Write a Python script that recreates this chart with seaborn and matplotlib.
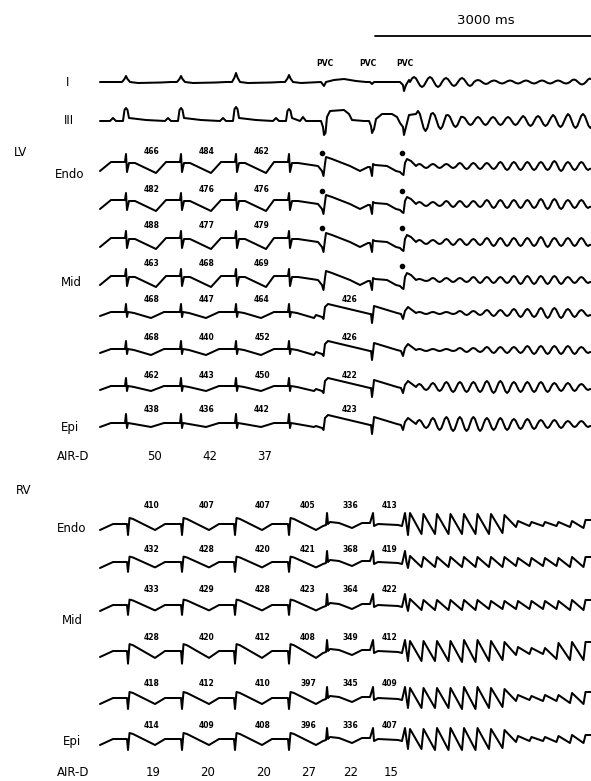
import numpy as np
import pandas as pd
import matplotlib
matplotlib.use("Agg")
import matplotlib.pyplot as plt
import seaborn as sns

# ---------------- data ----------------
SCALE_BAR_MS = 3000
TRACE_END_MS = 6820
SINUS_MS = [361, 1125, 1889, 2625]          # sinus beats (leads, LV)
LV_PVC_MS = [3111, 3778, 4222]              # three PVCs
RV_SINUS_MS = [389, 1139, 1875, 2625]
RV_PVC_MS = [3153, 3792, 4236]
PVC_LABELS = ["PVC", "PVC", "PVC"]

LEAD_NAMES = ["I", "III"]
I_PEAKS = [6, 6, 9, 7]
III_PEAKS = [13, 13, 14, 12]
I_VF_AMP = [5, 5, 4, 4, 2, 1.5, 1.5, 1.5, 1.5, 1.5, 2.5, 3.5, 3]
III_VF_AMP = [10, 8, 6, 4, 4, 4, 4, 5, 5, 6, 7, 7, 7]

LV_SITES = ["Endo", "Mid", "Epi"]
LV_ARI = [[466, 484, 462], [482, 476, 476], [488, 477, 479], [463, 468, 469],
          [468, 447, 464, 426], [468, 440, 452, 426], [462, 443, 450, 422],
          [438, 436, 442, 423]]
LV_DOTS = [[1, 1], [1, 1], [1, 1], [0, 1], [0, 0], [0, 0], [0, 0], [0, 0]]
LV_SPIKE = [12, 11, 11, 11, 9, 9, 9, 10]
LV_DIP = [7, 7, 7, 7, 5, 5, 4, 3]
LV_VF_AMP = [[2, 2, 2, 3, 3, 3, 4, 4, 4, 4, 5, 4, 4],
             [2, 2, 3, 3, 3, 4, 4, 4, 4, 5, 5, 4, 4],
             [2, 2, 3, 3, 3, 4, 4, 4, 4, 5, 4, 4, 4],
             [1, 2, 2, 2, 3, 3, 3, 4, 4, 4, 4, 3, 3],
             [1, 1, 1, 2, 2, 3, 3, 4, 4, 5, 5, 4, 3],
             [1, 1, 1, 2, 2, 3, 3, 3, 4, 4, 4, 4, 3],
             [3, 4, 5, 5, 5, 6, 6, 5, 5, 5, 4, 4, 3],
             [4, 6, 7, 7, 7, 6, 6, 5, 5, 4, 4, 3, 3]]
LV_AIRD = [50, 42, 37]

RV_SITES = ["Endo", "Mid", "Epi"]
RV_ARI = [[410, 407, 407, 405, 336, 413], [432, 428, 420, 421, 368, 419],
          [433, 429, 428, 423, 364, 422], [428, 420, 412, 408, 349, 412],
          [418, 412, 410, 397, 345, 409], [414, 409, 408, 396, 336, 407]]
RV_GAIN = [1.0, 0.9, 0.9, 1.15, 1.0, 1.0]
RV_VF_AMP = [[11, 10, 10, 10, 10, 10, 10, 9, 3, 2, 2, 2, 3, 4],
             [6, 5, 5, 5, 5, 5, 5, 5, 4, 4, 4, 4, 5, 5],
             [6, 5, 5, 5, 5, 5, 4, 4, 4, 4, 4, 4, 5, 5],
             [10, 10, 10, 10, 11, 11, 10, 9, 4, 3, 3, 8, 9, 9],
             [10, 10, 10, 10, 11, 11, 10, 9, 3, 2, 3, 3, 5, 6],
             [10, 10, 11, 11, 11, 11, 10, 9, 3, 2, 2, 3, 4, 4]]
RV_AIRD = [19, 20, 20, 27, 22, 15]

# ---------------- layout (pixels of the 591x781 canvas) ----------------
MS_PER_PX = SCALE_BAR_MS / 216.0


def ms(px):
    return (px - 100.0) * MS_PER_PX


LEAD_Y = [82, 121]
LV_Y = [166, 204, 242, 280, 313, 350, 387, 424]
LV_NUM_Y = [151, 189, 226, 264, 300, 337, 375, 409]
RV_Y = [524, 562, 605, 651, 698, 739]
RV_NUM_Y = [505, 550, 590, 637, 683, 725]
PVC_LABEL_DX = [1, -4, 1]


# ---------------- waveform shapes (dx in px, amplitude in px, up positive) ----------------
def tpl_I(h):
    return [(-4, 0), (-1.5, 0.5 * h), (0, h), (1.5, 0.5 * h), (4, 0), (12, -1), (35, -0.5), (45, 0)]


def tpl_III(h):
    return [(-16, 0), (-13, 3), (-10, 0), (-3, 0), (-1.5, 0.85 * h), (0, h), (1.5, 0.85 * h),
            (3, 3), (20, 1), (38, 0)]


I_PVC = [[(-3, 0), (0, -4), (2, 0), (10, 2), (20, 3), (32, 1), (42, 0)],
         [(-2, 0), (0, -2), (2, 0), (20, 0)],
         [(-4, 0), (-1, -3), (0, -9), (2, -3), (5, 2)]]
III_PVC = [[(-24, 0), (-21, 4), (-18, 0), (-3, 0), (-1, -6), (0, -14), (1.5, -12), (3, 4),
            (6, 10), (20, 11), (25, 7), (28, 1), (40, 0)],
           [(-3, 0), (-1, -5), (0, -12), (2, -8), (4, 2), (10, 7), (20, 7), (25, 4), (28, -2)],
           [(-1, -6), (0, -14), (2, -6), (5, 6), (12, 7)]]


def tpl_lvA(sp, dp):
    return [(-15, 4), (-1, 4), (0, sp), (1, -dp + 1), (3, 3), (9, 3), (30, -dp), (41, 3)]


def tpl_lvB(sp, dp):
    return [(-15, 1), (-1, 1), (0, sp), (1, -4), (2, 1), (8, 0), (25, -dp), (38, 1)]


LV_PVC_A = [[(-6, 0), (-2, -5), (-0.5, -10), (1, 2), (2, 9), (8, 7), (26, 0), (36, -5), (44, -1)],
            [(-2, -1), (0, -10), (1, 2), (3, 1), (15, 0), (24, -5), (28, -6)],
            [(-2, -8), (-0.5, -9), (1, 3), (3, 7), (7, 5), (12, 0)]]
LV_PVC_B = [[(-8, -2), (-2, -4), (-0.5, -6), (1, 6), (4, 9), (46, -1)],
            [(-1, -1), (0, -10), (1, -2), (2, 7), (25, 0), (29, 0)],
            [(-3, -1), (-1, -6), (1, 2), (4, 6), (12, 0)]]


def tpl_rv(g):
    return [(-15, 0), (-1, 0), (0, -11 * g), (1.5, 6 * g), (5, 5 * g), (27, -6 * g), (37, 0)]


RV_PVC = [[(-4, -2), (-1, -1), (0, 11), (1, 0), (3, 2), (12, 1), (25, -4), (35, 1)],
          [(-3, 1), (0, 11), (1, -2), (5, 0), (25, -1)],
          [(-3, -2), (0, 11), (1.5, 0)]]


def vf_tpl(amps, period, kind):
    pts = []
    for k, a in enumerate(amps):
        x0 = k * period
        if kind == "saw":
            pts += [(x0, -a), (x0 + 0.15 * period, a)]
        else:
            for f in np.linspace(0, 1, 9)[:-1]:
                v = np.sin(2 * np.pi * f) if kind == "sin" else np.cos(2 * np.pi * f)
                pts.append((x0 + f * period, a * v))
    return pts


def assemble(events, start_level):
    pts = [(0.0, start_level)]
    starts = [t + tpl[0][0] * MS_PER_PX for t, tpl in events]
    for i, (t, tpl) in enumerate(events):
        limit = starts[i + 1] if i + 1 < len(events) else np.inf
        for dx, a in tpl:
            tt = t + dx * MS_PER_PX
            if tt < limit and tt > pts[-1][0]:
                pts.append((tt, a))
    arr = np.array(pts)
    yend = np.interp(TRACE_END_MS, arr[:, 0], arr[:, 1])
    arr = arr[arr[:, 0] < TRACE_END_MS]
    return np.vstack([arr, [TRACE_END_MS, yend]])


traces = []

# leads I and III
ev = [(t, tpl_I(h)) for t, h in zip(SINUS_MS, I_PEAKS)]
ev += [(t, p) for t, p in zip(LV_PVC_MS, I_PVC)]
ev += [(LV_PVC_MS[2] + 6 * MS_PER_PX, vf_tpl(I_VF_AMP, 16, "sin"))]
traces.append((LEAD_Y[0], assemble(ev, 0)))

ev = [(t, tpl_III(h)) for t, h in zip(SINUS_MS, III_PEAKS)]
ev += [(t, p) for t, p in zip(LV_PVC_MS, III_PVC)]
ev += [(LV_PVC_MS[2] + 14 * MS_PER_PX, vf_tpl(III_VF_AMP, 15, "cos"))]
traces.append((LEAD_Y[1], assemble(ev, 0)))

# LV rows
for r in range(8):
    grpA = r < 4
    ftpl = tpl_lvA if grpA else tpl_lvB
    pv = LV_PVC_A if grpA else LV_PVC_B
    ev = [(t, ftpl(LV_SPIKE[r], LV_DIP[r])) for t in SINUS_MS]
    ev += [(t, p) for t, p in zip(LV_PVC_MS, pv)]
    ev += [(LV_PVC_MS[2] + 12 * MS_PER_PX, vf_tpl(LV_VF_AMP[r], 13.5, "sin"))]
    traces.append((LV_Y[r], assemble(ev, -5 if grpA else -3)))

# RV rows
for r in range(6):
    g = RV_GAIN[r]
    ev = [(t, tpl_rv(g)) for t in RV_SINUS_MS]
    ev += [(t, p) for t, p in zip(RV_PVC_MS, RV_PVC)]
    ev += [(RV_PVC_MS[2] + 3 * MS_PER_PX, vf_tpl(RV_VF_AMP[r], 13.5, "saw"))]
    traces.append((RV_Y[r], assemble(ev, -6)))

frames = []
for i, (y0, arr) in enumerate(traces):
    frames.append(pd.DataFrame({"t": arr[:, 0], "y": y0 - arr[:, 1], "trace": i}))
df = pd.concat(frames, ignore_index=True)

# ---------------- draw ----------------
sns.set_theme(style="white")
plt.rcParams["font.family"] = ["DejaVu Sans"]
plt.rcParams["text.color"] = "black"
fig = plt.figure(figsize=(5.91, 7.81), dpi=100)
ax = fig.add_axes([0, 0, 1, 1])
sns.lineplot(data=df, x="t", y="y", units="trace", estimator=None, sort=False,
             color="black", linewidth=1.45, legend=False, ax=ax)
ax.set_xlim(ms(0), ms(591))
ax.set_ylim(781, 0)
ax.axis("off")

# scale bar
ax.plot([ms(375), ms(375) + SCALE_BAR_MS], [36, 36], color="black", lw=1.3)
ax.text(ms(486), 21, f"{SCALE_BAR_MS} ms", ha="center", va="center", fontsize=9.5,
        color="black")

lab = dict(ha="center", va="center", fontsize=8.5, color="black")
num = dict(ha="center", va="center", fontsize=5.5, fontweight="bold", color="black")

for t, s, dx in zip(LV_PVC_MS, PVC_LABELS, PVC_LABEL_DX):
    ax.text(t + dx * MS_PER_PX, 63, s, **num)

ax.text(ms(68), LEAD_Y[0], LEAD_NAMES[0], **lab)
ax.text(ms(69), LEAD_Y[1], LEAD_NAMES[1], **lab)

# LV labels
ax.text(ms(20), 153, "LV", **lab)
ax.text(ms(70), 175, LV_SITES[0], **lab)
ax.text(ms(71), 283, LV_SITES[1], **lab)
ax.text(ms(70), 428, LV_SITES[2], **lab)
ax.text(ms(73), 456, "AIR-D", **lab)
lv_num_t = [SINUS_MS[0], SINUS_MS[1], SINUS_MS[2], LV_PVC_MS[0]]
for r, vals in enumerate(LV_ARI):
    for j, v in enumerate(vals):
        ax.text(lv_num_t[j] + 26 * MS_PER_PX, LV_NUM_Y[r], str(v), **num)
    for j, d in enumerate(LV_DOTS[r]):
        if d:
            tt = LV_PVC_MS[0 if j == 0 else 2] - 1.5 * MS_PER_PX
            ax.scatter([tt], [LV_NUM_Y[r] + 2], s=9, color="black", zorder=5)
for j, v in enumerate(LV_AIRD):
    ax.text(SINUS_MS[j] + 29 * MS_PER_PX, 456, str(v), **lab)

# RV labels
ax.text(ms(24), 490, "RV", **lab)
ax.text(ms(72), 528, RV_SITES[0], **lab)
ax.text(ms(72), 621, RV_SITES[1], **lab)
ax.text(ms(72), 741, RV_SITES[2], **lab)
ax.text(ms(73), 773, "AIR-D", **lab)
rv_num_t = RV_SINUS_MS + RV_PVC_MS[:2]
rv_off = [24, 25, 28, 19, 23, 17]
for r, vals in enumerate(RV_ARI):
    for j, v in enumerate(vals):
        ax.text(rv_num_t[j] + rv_off[j] * MS_PER_PX, RV_NUM_Y[r], str(v), **num)
for j, v in enumerate(RV_AIRD):
    ax.text(rv_num_t[j] + (rv_off[j] + 1) * MS_PER_PX, 773, str(v), **lab)

fig.savefig("out.png", dpi=100)
